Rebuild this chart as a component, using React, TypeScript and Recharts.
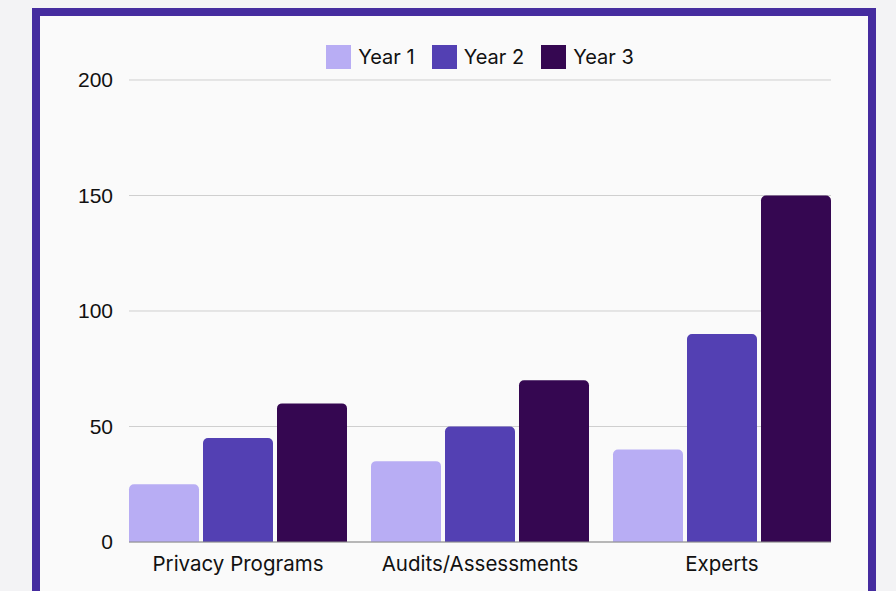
import React from 'react';
import { BarChart, Bar, XAxis, YAxis, CartesianGrid, Legend } from 'recharts';

const categories = ['Privacy Programs', 'Audits/Assessments', 'Experts'];
const year1 = [25, 35, 40];
const year2 = [45, 50, 90];
const year3 = [60, 70, 150];
const yTicks = [0, 50, 100, 150, 200];

const seriesNames = ['Year 1', 'Year 2', 'Year 3'];
const seriesColors = ['#B8ADF4', '#5340B3', '#350751'];

const data = categories.map((name, i) => ({
  name,
  y1: year1[i],
  y2: year2[i],
  y3: year3[i],
}));

const labelFont = 'Inter, "Noto Sans", sans-serif';

function ChartLegend() {
  return (
    <div style={{ display: 'flex', justifyContent: 'center', alignItems: 'center', gap: 17 }}>
      {seriesNames.map((n, i) => (
        <div key={n} style={{ display: 'flex', alignItems: 'center' }}>
          <div style={{ width: 25, height: 24, background: seriesColors[i], marginRight: 7 }} />
          <span style={{ fontFamily: labelFont, fontSize: 20, color: '#111' }}>{n}</span>
        </div>
      ))}
    </div>
  );
}

export default function App() {
  return (
    <div
      style={{
        position: 'absolute',
        left: 0,
        top: 0,
        width: 896,
        height: 591,
        overflow: 'hidden',
        background: '#f3f3f5',
      }}
    >
      <div
        style={{
          position: 'absolute',
          left: 32,
          top: 8,
          width: 828,
          height: 620,
          border: '8px solid #452C9F',
          background: '#fafafa',
        }}
      />
      <div style={{ position: 'absolute', left: 0, top: 0 }}>
        <BarChart
          width={896}
          height={591}
          data={data}
          margin={{ top: 80, right: 65, bottom: 19, left: 69 }}
          barCategoryGap={12}
          barGap={4}
        >
          <CartesianGrid vertical={false} stroke="#cfcfcf" />
          <XAxis
            dataKey="name"
            padding={{ left: -12, right: -12 }}
            axisLine={{ stroke: '#8a8a8a' }}
            tickLine={false}
            tickMargin={8}
            height={30}
            tick={{ fontFamily: labelFont, fontSize: 20.5, fill: '#111' }}
          />
          <YAxis
            domain={[0, 200]}
            ticks={yTicks}
            width={60}
            axisLine={false}
            tickLine={false}
            tickMargin={10}
            tick={{ fontFamily: '"Liberation Sans", Arial, sans-serif', fontSize: 21, fill: '#111' }}
          />
          <Legend
            verticalAlign="middle"
            wrapperStyle={{ top: 45, left: 129, width: 702 }}
            content={() => <ChartLegend />}
          />
          <Bar dataKey="y1" name={seriesNames[0]} fill={seriesColors[0]} radius={[5, 5, 0, 0]} isAnimationActive={false} />
          <Bar dataKey="y2" name={seriesNames[1]} fill={seriesColors[1]} radius={[5, 5, 0, 0]} isAnimationActive={false} />
          <Bar dataKey="y3" name={seriesNames[2]} fill={seriesColors[2]} radius={[5, 5, 0, 0]} isAnimationActive={false} />
        </BarChart>
      </div>
    </div>
  );
}
